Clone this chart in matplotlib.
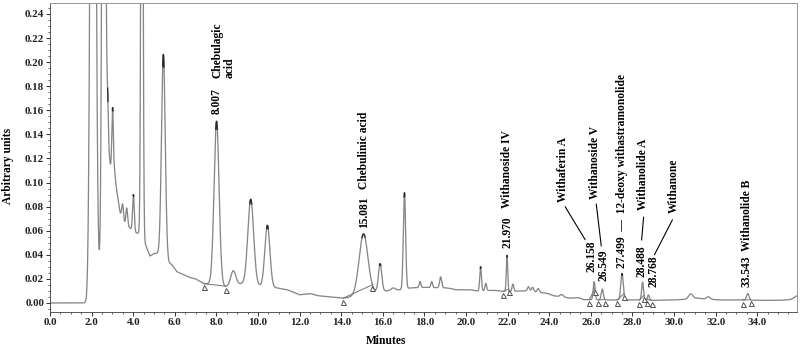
import numpy as np
import matplotlib
matplotlib.use('Agg')
import matplotlib.pyplot as plt
from matplotlib.ticker import MultipleLocator, FormatStrFormatter
from matplotlib.transforms import offset_copy

plt.rcParams['font.family'] = ['Liberation Serif', 'DejaVu Serif']
plt.rcParams['font.weight'] = 'bold'

# drift of the detector signal (minutes, units)
bg_t = [0.0, 1.75, 2.2, 2.45, 2.6, 2.75, 2.9, 3.1, 3.2, 3.37, 3.57, 3.85, 4.17, 4.3,
        4.6, 4.8, 5.0, 5.15, 5.6, 5.85, 6.1, 6.5, 6.75, 7.0, 7.4, 7.7, 8.4, 9.2,
        10.2, 10.9, 11.4, 12.0, 12.5, 12.9, 13.3, 14.1, 14.5, 15.5, 16.15, 16.9,
        17.3, 18.0, 19.1, 19.5, 20.2, 20.5, 21.3, 21.6, 22.0, 22.6, 23.0, 23.9,
        24.2, 25.0, 25.4, 25.64, 26.9, 28.0, 29.0, 30.0, 30.5, 31.1, 31.4, 32.2,
        33.0, 34.1, 35.1, 35.6, 35.91]
bg_v = [0.0, 0.0, 0.02, 0.028, 0.10, 0.135, 0.115, 0.11, 0.094, 0.075, 0.067, 0.062,
        0.058, 0.058, 0.048, 0.039, 0.041, 0.041, 0.034, 0.032, 0.026, 0.023, 0.021,
        0.020, 0.016, 0.016, 0.0135, 0.016, 0.014, 0.0125, 0.011, 0.0068, 0.0078,
        0.006, 0.0053, 0.004, 0.005, 0.009, 0.010, 0.011, 0.0125, 0.013, 0.0125,
        0.011, 0.011, 0.010, 0.0105, 0.010, 0.0094, 0.010, 0.010, 0.008, 0.006,
        0.004, 0.0045, 0.0028, 0.0025, 0.0025, 0.0022, 0.0025, 0.003, 0.004,
        0.0035, 0.0025, 0.0025, 0.0022, 0.0022, 0.0028, 0.006]

# peaks: retention time, height above drift, sigma
pk_t = [2.07, 2.58, 2.78, 3.01, 3.49, 3.69, 4.01, 4.42, 5.45, 8.007, 8.81, 9.65,
        10.45, 15.07, 15.87, 16.5, 17.04, 17.79, 18.35, 18.78, 20.70, 20.95,
        21.97, 22.25, 23.0, 23.2, 23.47, 24.6, 26.158, 26.549, 27.499, 28.488,
        28.768, 30.8, 31.65, 33.543]
pk_h = [1.0, 0.7, 0.03, 0.05, 0.012, 0.014, 0.03, 0.6, 0.17, 0.136, 0.012, 0.071,
        0.051, 0.050, 0.023, 0.002, 0.080, 0.005, 0.005, 0.009, 0.020, 0.006,
        0.030, 0.006, 0.0035, 0.0035, 0.003, 0.002, 0.015, 0.009, 0.022, 0.015,
        0.0045, 0.004, 0.002, 0.0055]
pk_w = [0.10, 0.07, 0.03, 0.035, 0.04, 0.04, 0.04, 0.045, 0.09, 0.12, 0.12, 0.14,
        0.12, 0.21, 0.08, 0.10, 0.055, 0.04, 0.04, 0.05, 0.04, 0.04, 0.035, 0.04,
        0.05, 0.05, 0.05, 0.08, 0.045, 0.05, 0.06, 0.045, 0.04, 0.10, 0.08, 0.06]

# identified compounds and their integration limits
lab_rt = [8.007, 15.081, 21.970, 26.158, 26.549, 27.499, 28.488, 28.768, 33.543]
lab_name = ['Chebulagic\nacid', 'Chebulinic acid', 'Withanoside IV', 'Withaferin A',
            'Withanoside V', '12-deoxy withastramonolide', 'Withanolide A',
            'Withanone', 'Withanolide B']
int_start = [7.40, 14.10, 21.80, 25.93, 26.36, 27.27, 28.33, 28.69, 33.30]
int_end = [8.45, 15.50, 22.05, 26.20, 26.68, 27.60, 28.56, 28.93, 33.68]

# label placement in points from the apex: number dx, dy, name dx, dy, leader
layout = [
    (0, 7, 7, 43, None),
    (0, 6, 0, 45, None),
    (0, 7, 0, 47, None),
    (-3, 10, -31, 80, ((-29, 75), (-9, 42))),
    (1, 8, -7, 90, ((-6, 85), (-1, 43))),
    (0, 5, 0, 41, 'dash'),
    (-1, 5, 0, 72, ((1, 65), (-1, 42))),
    (5, 8, 25, 82, ((24, 75), (6, 40))),
    (-1, 7, -1, 43, None),
]

t = np.linspace(0, 35.91, 8000)
y = np.interp(t, bg_t, bg_v)
for c, h, w in zip(pk_t, pk_h, pk_w):
    y = y + h * np.exp(-(t - c) ** 2 / (2 * w ** 2))

fig = plt.figure(figsize=(800 / 72, 348 / 72), dpi=72)
ax = fig.add_axes([50 / 800, 1 - 312 / 348, 747 / 800, 309 / 348])

ax.plot(t, y, color='#868686', lw=1.3, zorder=2)
# darker apex of the larger peaks
for c, h, w in zip(pk_t, pk_h, pk_w):
    if 0.02 <= h < 0.3:
        m = np.abs(t - c) < 0.35 * w
        ax.plot(t[m], y[m], color='#2a2a2a', lw=1.3, zorder=3)

# integration baselines and start/stop marks
ys = np.interp(int_start, t, y)
ye = np.interp(int_end, t, y)
for a, b, va, vb in zip(int_start, int_end, ys, ye):
    ax.plot([a, b], [va, vb], color='#777777', lw=1.0, zorder=2)
tri = offset_copy(ax.transData, fig=fig, x=0, y=-3.5, units='points')
ax.plot(int_start + int_end, list(ys) + list(ye), ls='none', marker='^', ms=5,
        mfc='white', mec='#444444', mew=0.9, transform=tri, zorder=4)

fs = 11.5
for rt, name, (ndx, ndy, mdx, mdy, lead) in zip(lab_rt, lab_name, layout):
    top = y[np.abs(t - rt) < 0.1].max()
    num = '%.3f' % rt
    if lead == 'dash':
        num = num + '  \u2014  ' + name
    ax.annotate(num, xy=(rt, top), xytext=(ndx, ndy), textcoords='offset points',
                rotation=90, ha='center', va='bottom', fontsize=fs, zorder=5)
    if lead == 'dash':
        continue
    ax.annotate(name, xy=(rt, top), xytext=(mdx, mdy), textcoords='offset points',
                rotation=90, ha='center', va='bottom', fontsize=fs,
                multialignment='left', linespacing=1.0, zorder=5)
    if lead is not None:
        (x1, y1), (x2, y2) = lead
        tr = offset_copy(ax.transData, fig=fig, x=x2, y=y2, units='points')
        ax.annotate('', xy=(rt, top), xycoords=tr, xytext=(x1 - x2, y1 - y2),
                    textcoords='offset points',
                    arrowprops=dict(arrowstyle='-', lw=1.1, color='black',
                                    shrinkA=0, shrinkB=0))

ax.set_xlim(0, 35.91)
ax.set_ylim(-0.0075, 0.2491)
ax.xaxis.set_major_locator(MultipleLocator(2.0))
ax.xaxis.set_minor_locator(MultipleLocator(0.5))
ax.yaxis.set_major_locator(MultipleLocator(0.02))
ax.yaxis.set_minor_locator(MultipleLocator(0.005))
ax.xaxis.set_major_formatter(FormatStrFormatter('%.1f'))
ax.yaxis.set_major_formatter(FormatStrFormatter('%.2f'))
ax.tick_params(which='major', direction='out', length=4, width=0.9,
               labelsize=11, pad=2, colors='#222222')
ax.tick_params(which='minor', direction='out', length=2, width=0.8, color='#444444')
for s in ['left', 'bottom']:
    ax.spines[s].set_color('#333333')
for s in ['top', 'right']:
    ax.spines[s].set_color('#999999')
    ax.spines[s].set_linewidth(1.0)

fig.text(8 / 800, 1 - 166 / 348, 'Arbitrary units', rotation=90, ha='center',
         va='center', fontsize=11.5)
fig.text(386 / 800, 1 - 341 / 348, 'Minutes', ha='center', va='center',
         fontsize=11.5)

fig.savefig('out.png', dpi=72)
